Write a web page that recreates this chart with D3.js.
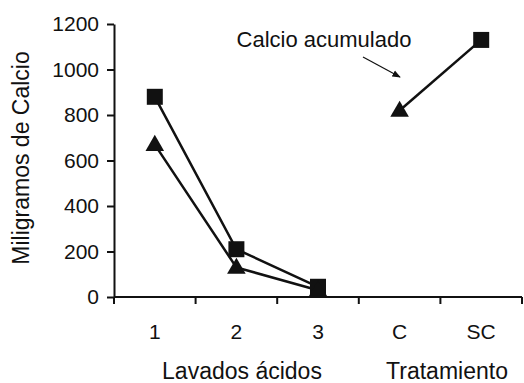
<!DOCTYPE html>
<html><head><meta charset="utf-8">
<script src="https://cdn.jsdelivr.net/npm/d3@7"></script>
<style>body{margin:0;background:#fff}svg{display:block}text{font-family:"Liberation Sans",Arial,sans-serif;fill:#111}</style>
</head><body><svg id="c" width="524" height="383"></svg>
<script>
const categories = ["1","2","3","C","SC"];
const washCats = ["1","2","3"];
const squareWash = [880, 210, 45];
const triangleWash = [670, 130, 30];
const treatCats = ["C","SC"];
const treatValues = [820, 1130];
const treatShapes = ["triangle","square"];
const yTicks = [0,200,400,600,800,1000,1200];

const svg = d3.select("#c");
const x = d3.scaleBand().domain(categories).range([114,522]);
const y = d3.scaleLinear().domain([0,1200]).range([297,24]);

// y axis
const ya = svg.append("g").attr("transform","translate(114,0)")
  .call(d3.axisLeft(y).tickValues(yTicks).tickFormat(d3.format("d")).tickSize(7).tickPadding(8).tickSizeOuter(0));
ya.select(".domain").attr("stroke","#111").attr("stroke-width",2);
ya.selectAll(".tick line").attr("stroke","#111").attr("stroke-width",2);
ya.selectAll(".tick text").style("font-size","21px").attr("fill","#111");

// x axis: ticks at band boundaries
const xa = svg.append("g").attr("transform","translate(0,297)");
xa.append("line").attr("x1",x.range()[0]).attr("x2",x.range()[1]).attr("stroke","#111").attr("stroke-width",2);
const bounds = categories.map(c=>x(c)).concat([x.range()[1]]);
xa.selectAll("line.t").data(bounds).enter().append("line").attr("class","t")
  .attr("x1",d=>d).attr("x2",d=>d).attr("y1",0).attr("y2",7).attr("stroke","#111").attr("stroke-width",2);
xa.selectAll("text").data(categories).enter().append("text")
  .attr("x",d=>x(d)+x.bandwidth()/2).attr("y",42).attr("text-anchor","middle").style("font-size","21px").text(d=>d);

const cx = c => x(c)+x.bandwidth()/2;
const line = d3.line().x(d=>cx(d.c)).y(d=>y(d.v));
const sq = d3.symbol().type(d3.symbolSquare).size(256);
const tri = d3.symbol().type(d3.symbolTriangle).size(150);

function series(cats, vals){ return cats.map((c,i)=>({c, v:vals[i]})); }
const sData = series(washCats, squareWash);
const tData = series(washCats, triangleWash);
const trData = treatCats.map((c,i)=>({c, v:treatValues[i], s:treatShapes[i]}));

[sData, tData, trData].forEach(d=>{
  svg.append("path").attr("d",line(d)).attr("fill","none").attr("stroke","#111").attr("stroke-width",2.5);
});
svg.selectAll("path.sq").data(sData.concat(trData.filter(d=>d.s==="square"))).enter().append("path")
  .attr("transform",d=>`translate(${cx(d.c)},${y(d.v)})`).attr("d",sq).attr("fill","#111");
svg.selectAll("path.tr").data(tData.concat(trData.filter(d=>d.s==="triangle"))).enter().append("path")
  .attr("transform",d=>`translate(${cx(d.c)},${y(d.v)+1})`).attr("d",tri).attr("fill","#111");

// annotation
svg.append("defs").append("marker").attr("id","ah").attr("viewBox","0 0 10 10").attr("refX",9).attr("refY",5)
  .attr("markerWidth",7).attr("markerHeight",7).attr("orient","auto")
  .append("path").attr("d","M0,1 L10,5 L0,9 Z").attr("fill","#111");
svg.append("text").attr("x",324).attr("y",47).attr("text-anchor","middle").style("font-size","22px").text("Calcio acumulado");
svg.append("line").attr("x1",363).attr("y1",57).attr("x2",400).attr("y2",77).attr("stroke","#111").attr("stroke-width",1.2).attr("marker-end","url(#ah)");

// axis titles
svg.append("text").attr("transform","translate(29,158) rotate(-90)").attr("text-anchor","middle").style("font-size","23px").text("Miligramos de Calcio");
svg.append("text").attr("x",242).attr("y",379).attr("text-anchor","middle").style("font-size","23px").text("Lavados ácidos");
svg.append("text").attr("x",447).attr("y",379).attr("text-anchor","middle").style("font-size","23px").text("Tratamiento");
</script></body></html>
